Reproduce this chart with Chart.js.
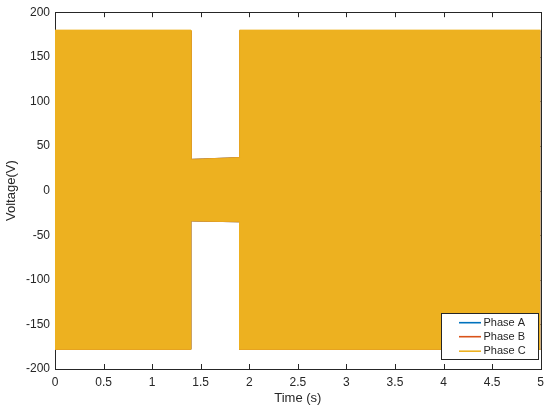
<!DOCTYPE html>
<html>
<head>
<meta charset="utf-8">
<script src="https://cdn.jsdelivr.net/npm/chart.js@4/dist/chart.umd.min.js"></script>
<style>
  html, body { margin: 0; padding: 0; background: #ffffff; }
  #wrap { width: 550px; height: 413px; position: relative; }
</style>
</head>
<body>
<div id="wrap"><canvas id="c" width="550" height="413"></canvas></div>
<script>
// ---- Data (peak envelopes of the dense 3-phase waveform) ----
const timeS = [0, 1.4, 1.4, 1.9, 1.9, 5];
const phaseA_upper = [179, 179, 35, 37, 179, 179];
const phaseA_lower = [-178, -178, -34, -35, -178, -178];
const phaseB_upper = [179, 179, 35, 37, 179, 179];
const phaseB_lower = [-178, -178, -34, -35, -178, -178];
const phaseC_upper = [180, 180, 35, 37, 180, 180];
const phaseC_lower = [-178, -178, -34, -35, -178, -178];

const seriesNames = ['Phase A', 'Phase B', 'Phase C'];
const seriesColors = ['#0072BD', '#D95319', '#EDB120'];

const xTicks = [0, 0.5, 1, 1.5, 2, 2.5, 3, 3.5, 4, 4.5, 5];
const yTicks = [-200, -150, -100, -50, 0, 50, 100, 150, 200];

const AX = '#262626';
const FONT = "'Liberation Sans', Arial, Helvetica, sans-serif";

function pts(xs, ys) { return xs.map((x, i) => ({ x: x, y: ys[i] })); }

function band(name, color, upper, lower) {
  return [
    { label: name, data: pts(timeS, upper), borderColor: color, backgroundColor: color,
      borderWidth: 0.8, pointRadius: 0, fill: '+1', tension: 0 },
    { label: name + '_low', data: pts(timeS, lower), borderColor: color, backgroundColor: color,
      borderWidth: 0.8, pointRadius: 0, fill: false, tension: 0 }
  ];
}

// Phase C first so it is drawn on top (Chart.js draws dataset 0 last)
const datasets = [
  ...band(seriesNames[2], seriesColors[2], phaseC_upper, phaseC_lower),
  ...band(seriesNames[1], seriesColors[1], phaseB_upper, phaseB_lower),
  ...band(seriesNames[0], seriesColors[0], phaseA_upper, phaseA_lower)
];

const boxPlugin = {
  id: 'matlabBox',
  beforeDatasetsDraw(chart) {
    const { ctx, chartArea: a, scales } = chart;
    ctx.save();
    ctx.strokeStyle = AX;
    ctx.lineWidth = 1;
    ctx.strokeRect(Math.round(a.left) + 0.5, Math.round(a.top) + 0.5,
                   Math.round(a.right - a.left), Math.round(a.bottom - a.top));
    const tl = 5;
    ctx.beginPath();
    xTicks.forEach(v => {
      const x = Math.round(scales.x.getPixelForValue(v)) + 0.5;
      ctx.moveTo(x, a.bottom); ctx.lineTo(x, a.bottom - tl);
      ctx.moveTo(x, a.top); ctx.lineTo(x, a.top + tl);
    });
    yTicks.forEach(v => {
      const y = Math.round(scales.y.getPixelForValue(v)) + 0.5;
      ctx.moveTo(a.left, y); ctx.lineTo(a.left + tl, y);
      ctx.moveTo(a.right, y); ctx.lineTo(a.right - tl, y);
    });
    ctx.stroke();
    ctx.restore();
  },
  afterDraw(chart) {
    const { ctx } = chart;
    const a = chart.chartArea;
    ctx.save();
    const bx = 441.5, by = 313.5, bw = 97, bh = 46;
    ctx.fillStyle = '#ffffff';
    ctx.fillRect(bx, by, bw, bh);
    ctx.strokeStyle = AX;
    ctx.lineWidth = 1;
    ctx.strokeRect(bx, by, bw, bh);
    ctx.font = '11px ' + FONT;
    ctx.textBaseline = 'middle';
    ctx.textAlign = 'left';
    const rows = [322.7, 336.7, 351.2];
    [0, 1, 2].forEach(i => {
      ctx.strokeStyle = seriesColors[i];
      ctx.lineWidth = 1.6;
      ctx.beginPath();
      ctx.moveTo(459, rows[i]); ctx.lineTo(481, rows[i]);
      ctx.stroke();
      ctx.fillStyle = AX;
      ctx.fillText(seriesNames[i], 483.5, rows[i]);
    });
    ctx.restore();
  }
};

new Chart(document.getElementById('c'), {
  type: 'line',
  data: { datasets: datasets },
  options: {
    responsive: false,
    animation: false,
    events: [],
    layout: { padding: { top: 10, right: 8, left: 0, bottom: 0 } },
    plugins: {
      legend: { display: false },
      tooltip: { enabled: false },
      filler: { propagate: false }
    },
    scales: {
      x: {
        type: 'linear', min: 0, max: 5,
        grid: { display: false, drawTicks: false },
        border: { display: false },
        afterBuildTicks: s => { s.ticks = xTicks.map(v => ({ value: v })); },
        ticks: { color: AX, font: { family: FONT, size: 12 }, padding: 6, maxRotation: 0,
                 callback: v => String(v) },
        title: { display: true, text: 'Time (s)', color: AX,
                 font: { family: FONT, size: 13 }, padding: { top: 0, bottom: 7 } },
        afterFit: s => { s.height = 44; }
      },
      y: {
        type: 'linear', min: -200, max: 200,
        grid: { display: false, drawTicks: false },
        border: { display: false },
        afterBuildTicks: s => { s.ticks = yTicks.map(v => ({ value: v })); },
        ticks: { color: AX, font: { family: FONT, size: 12 }, padding: 5,
                 callback: v => String(v) },
        title: { display: true, text: 'Voltage(V)', color: AX,
                 font: { family: FONT, size: 13 }, padding: { top: 4, bottom: 0 } },
        afterFit: s => { s.width = 55; }
      }
    }
  },
  plugins: [boxPlugin]
});
</script>
</body>
</html>
